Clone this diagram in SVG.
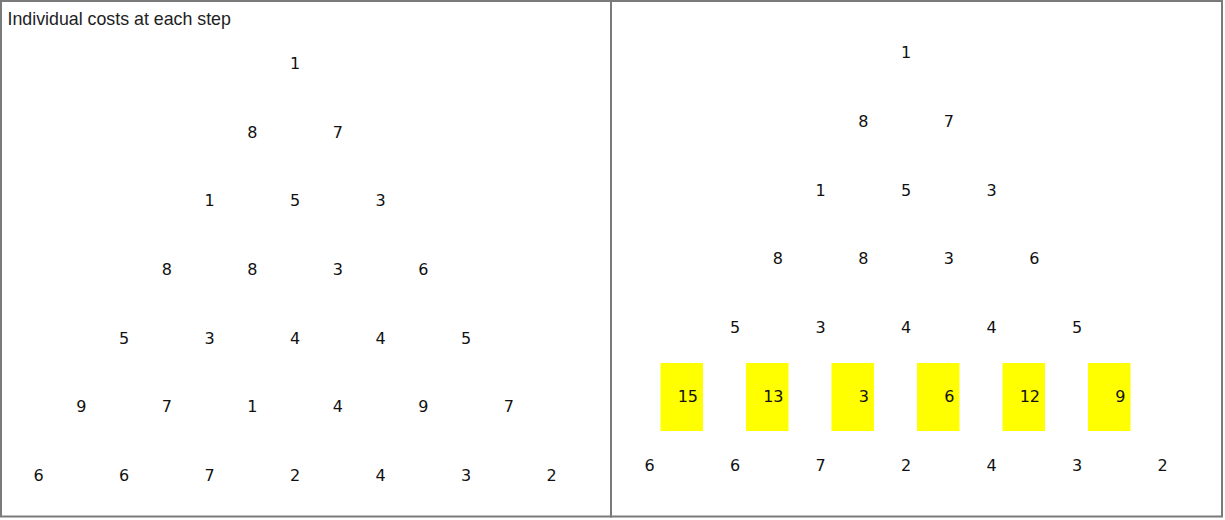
<svg xmlns="http://www.w3.org/2000/svg" width="1225" height="520" viewBox="0 0 1225 520">
<style>
.frame{fill:none;stroke:#7a7a7a;stroke-width:2}
.n{font-family:"DejaVu Sans",sans-serif;font-size:16px;fill:#111;text-anchor:middle}
.b{font-family:"DejaVu Sans",sans-serif;font-size:16px;fill:#111;text-anchor:end}
.box{fill:#ffff00}
.title{font-family:"Liberation Sans",Arial,sans-serif;font-size:17.8px;fill:#222}
</style>
<rect width="1225" height="520" fill="#fff"/>
<rect class="frame" x="1" y="1" width="610" height="515.5"/>
<rect class="frame" x="611" y="1" width="611" height="515.5"/>
<text class="title" x="7.5" y="25">Individual costs at each step</text>
<g id="left">
<g id="L0"><text class="n" x="295" y="69">1</text></g>
<g id="L1"><text class="n" x="252.3" y="137.7">8</text><text class="n" x="337.8" y="137.7">7</text></g>
<g id="L2"><text class="n" x="209.5" y="206.3">1</text><text class="n" x="295" y="206.3">5</text><text class="n" x="380.5" y="206.3">3</text></g>
<g id="L3"><text class="n" x="166.8" y="275">8</text><text class="n" x="252.3" y="275">8</text><text class="n" x="337.8" y="275">3</text><text class="n" x="423.3" y="275">6</text></g>
<g id="L4"><text class="n" x="124" y="343.7">5</text><text class="n" x="209.5" y="343.7">3</text><text class="n" x="295" y="343.7">4</text><text class="n" x="380.5" y="343.7">4</text><text class="n" x="466" y="343.7">5</text></g>
<g id="L5"><text class="n" x="81.3" y="412.3">9</text><text class="n" x="166.8" y="412.3">7</text><text class="n" x="252.3" y="412.3">1</text><text class="n" x="337.8" y="412.3">4</text><text class="n" x="423.3" y="412.3">9</text><text class="n" x="508.8" y="412.3">7</text></g>
<g id="L6"><text class="n" x="38.5" y="481">6</text><text class="n" x="124" y="481">6</text><text class="n" x="209.5" y="481">7</text><text class="n" x="295" y="481">2</text><text class="n" x="380.5" y="481">4</text><text class="n" x="466" y="481">3</text><text class="n" x="551.5" y="481">2</text></g>
</g>
<g id="right">
<g id="R0"><text class="n" x="906" y="58">1</text></g>
<g id="R1"><text class="n" x="863.3" y="126.7">8</text><text class="n" x="948.8" y="126.7">7</text></g>
<g id="R2"><text class="n" x="820.5" y="195.5">1</text><text class="n" x="906" y="195.5">5</text><text class="n" x="991.5" y="195.5">3</text></g>
<g id="R3"><text class="n" x="777.8" y="264.2">8</text><text class="n" x="863.3" y="264.2">8</text><text class="n" x="948.8" y="264.2">3</text><text class="n" x="1034.3" y="264.2">6</text></g>
<g id="R4"><text class="n" x="735" y="333">5</text><text class="n" x="820.5" y="333">3</text><text class="n" x="906" y="333">4</text><text class="n" x="991.5" y="333">4</text><text class="n" x="1077" y="333">5</text></g>
<g id="R5">
<g id="R5a"><rect class="box" x="660.5" y="363" width="42.5" height="68"/><text class="b" x="698" y="402">15</text></g>
<g id="R5b"><rect class="box" x="746" y="363" width="42.5" height="68"/><text class="b" x="783.5" y="402">13</text></g>
<g id="R5c"><rect class="box" x="831.5" y="363" width="42.5" height="68"/><text class="b" x="869" y="402">3</text></g>
<g id="R5d"><rect class="box" x="917" y="363" width="42.5" height="68"/><text class="b" x="954.5" y="402">6</text></g>
<g id="R5e"><rect class="box" x="1002.5" y="363" width="42.5" height="68"/><text class="b" x="1040" y="402">12</text></g>
<g id="R5f"><rect class="box" x="1088" y="363" width="42.5" height="68"/><text class="b" x="1125.5" y="402">9</text></g>
</g>
<g id="R6"><text class="n" x="649.5" y="471">6</text><text class="n" x="735" y="471">6</text><text class="n" x="820.5" y="471">7</text><text class="n" x="906" y="471">2</text><text class="n" x="991.5" y="471">4</text><text class="n" x="1077" y="471">3</text><text class="n" x="1162.5" y="471">2</text></g>
</g>
<g id="connectors"></g>
</svg>
